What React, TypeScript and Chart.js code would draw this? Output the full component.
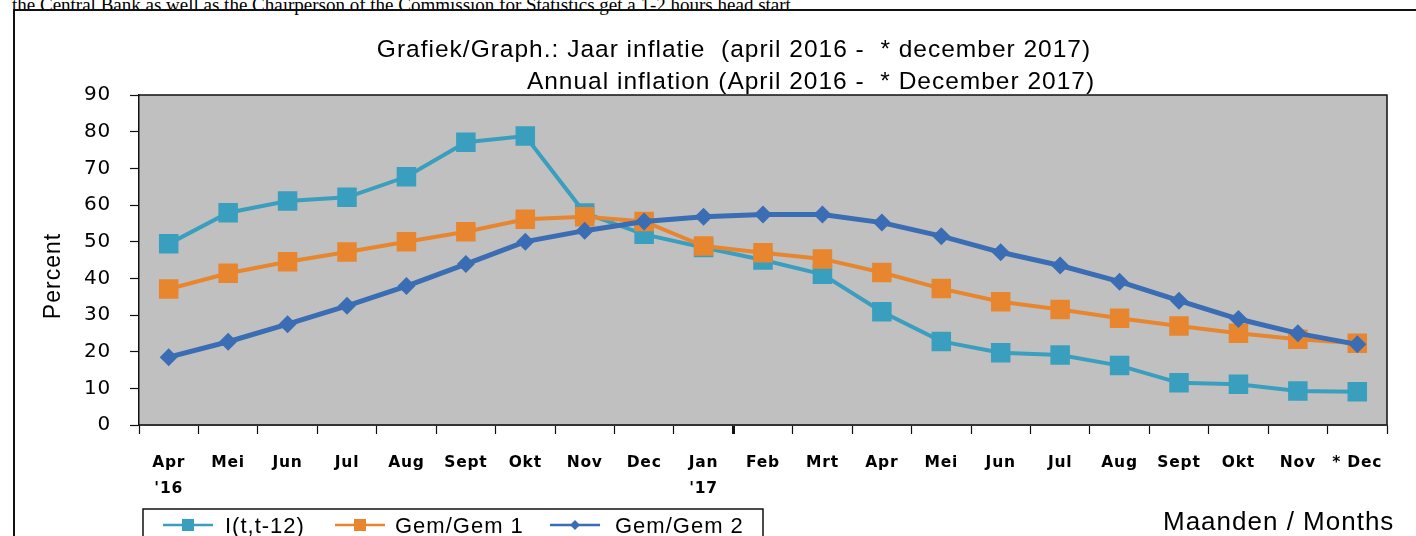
import React, { useEffect, useRef } from 'react';
import { Chart, registerables } from 'chart.js';

Chart.register(...registerables);

// ---- data ----
const categories: (string | string[])[] = [
  ['Apr', "'16"], 'Mei', 'Jun', 'Jul', 'Aug', 'Sept', 'Okt', 'Nov', 'Dec',
  ['Jan', "'17"], 'Feb', 'Mrt', 'Apr', 'Mei', 'Jun', 'Jul', 'Aug', 'Sept', 'Okt', 'Nov', '* Dec',
];
const seriesNames = ['I(t,t-12)', 'Gem/Gem 1', 'Gem/Gem 2'];
const inflationYoY = [49.4, 57.9, 61.1, 62.1, 67.7, 77.1, 78.8, 57.8, 52.0, 48.4, 45.0, 41.1, 30.9, 22.8, 19.7, 19.1, 16.2, 11.5, 11.1, 9.3, 9.1];
const gemGem1 = [37.1, 41.4, 44.5, 47.2, 50.0, 52.7, 56.1, 56.8, 55.5, 48.8, 47.0, 45.3, 41.6, 37.2, 33.6, 31.5, 29.1, 27.0, 25.0, 23.4, 22.3];
const gemGem2 = [18.5, 22.7, 27.5, 32.5, 37.9, 43.9, 50.0, 53.0, 55.5, 56.8, 57.4, 57.4, 55.2, 51.5, 47.1, 43.5, 39.1, 33.9, 28.9, 25.0, 22.0];
const yMin = 0;
const yMax = 90;
const yStep = 10;
const titleLines = [
  'Grafiek/Graph.: Jaar inflatie  (april 2016 -  * december 2017)',
  'Annual inflation (April 2016 -  * December 2017)',
];
const yTitle = 'Percent';
const xTitle = 'Maanden / Months';
const headerText = 'the Central Bank as well as the Chairperson of the Commission for Statistics get a 1-2 hours head start';

const TEAL = '#3a9fbe';
const ORANGE = '#e8862f';
const BLUE = '#3a6db3';

const decorPlugin = {
  id: 'decor',
  beforeDraw(chart: any) {
    const { ctx, chartArea: a } = chart;
    (ctx as any).letterSpacing = '0.8px';
    ctx.save();
    ctx.fillStyle = '#c0c0c0';
    ctx.fillRect(a.left, a.top, a.right - a.left, a.bottom - a.top);
    ctx.strokeStyle = '#111';
    ctx.lineWidth = 1.5;
    ctx.beginPath();
    ctx.moveTo(a.left, a.top);
    ctx.lineTo(a.right, a.top);
    ctx.lineTo(a.right, a.bottom);
    ctx.stroke();
    ctx.restore();
  },
  afterDraw(chart: any) {
    const { ctx } = chart;
    ctx.save();
    ctx.fillStyle = '#000';
    (ctx as any).letterSpacing = '1px';
    ctx.font = '24.5px "Liberation Sans", Arial, sans-serif';
    ctx.textBaseline = 'alphabetic';
    ctx.textAlign = 'center';
    ctx.fillText(titleLines[0], 734, 57);
    ctx.fillText(titleLines[1], 811, 89);

    // y title
    (ctx as any).letterSpacing = '1px';
    ctx.font = '23px "Liberation Sans", Arial, sans-serif';
    ctx.save();
    ctx.translate(60, 276);
    ctx.rotate(-Math.PI / 2);
    ctx.textAlign = 'center';
    ctx.fillText(yTitle, 0, 0);
    ctx.restore();

    // x title
    ctx.font = '26px "Liberation Sans", Arial, sans-serif';
    ctx.textAlign = 'left';
    ctx.fillText(xTitle, 1163, 530);

    // legend box
    ctx.strokeStyle = '#111';
    ctx.lineWidth = 1.5;
    ctx.strokeRect(143, 509, 620, 40);
    const items = [
      { lineX: 163, textX: 225 },
      { lineX: 335, textX: 395 },
      { lineX: 550, textX: 615 },
    ];
    const ly = 525;
    chart.data.datasets.forEach((ds: any, i: number) => {
      const it = items[i];
      ctx.strokeStyle = ds.borderColor;
      ctx.lineWidth = 2.5;
      ctx.beginPath();
      ctx.moveTo(it.lineX, ly);
      ctx.lineTo(it.lineX + 50, ly);
      ctx.stroke();
      const cx = it.lineX + 25;
      ctx.fillStyle = ds.borderColor;
      if (ds.pointStyle === 'rectRot') {
        ctx.beginPath();
        ctx.moveTo(cx, ly - 5);
        ctx.lineTo(cx + 5, ly);
        ctx.lineTo(cx, ly + 5);
        ctx.lineTo(cx - 5, ly);
        ctx.closePath();
        ctx.fill();
      } else {
        ctx.fillRect(cx - 6, ly - 6, 12, 12);
      }
      ctx.fillStyle = '#000';
      ctx.font = '22px "Liberation Sans", Arial, sans-serif';
      ctx.textAlign = 'left';
      ctx.fillText(ds.label, it.textX, 533);
    });
    ctx.restore();
  },
};

export default function App() {
  const canvasRef = useRef<HTMLCanvasElement | null>(null);

  useEffect(() => {
    if (!canvasRef.current) return;
    const chart = new Chart(canvasRef.current, {
      type: 'line',
      data: {
        labels: categories,
        datasets: [
          {
            label: seriesNames[0],
            data: inflationYoY,
            borderColor: TEAL,
            backgroundColor: TEAL,
            borderWidth: 4,
            pointStyle: 'rect',
            pointRadius: 13.8,
            pointBorderWidth: 0,
            pointBackgroundColor: TEAL,
            tension: 0,
            order: 3,
          },
          {
            label: seriesNames[1],
            data: gemGem1,
            borderColor: ORANGE,
            backgroundColor: ORANGE,
            borderWidth: 4,
            pointStyle: 'rect',
            pointRadius: 13.8,
            pointBorderWidth: 0,
            pointBackgroundColor: ORANGE,
            tension: 0,
            order: 2,
          },
          {
            label: seriesNames[2],
            data: gemGem2,
            borderColor: BLUE,
            backgroundColor: BLUE,
            borderWidth: 5,
            pointStyle: 'rectRot',
            pointRadius: 9,
            pointBorderWidth: 0,
            pointBackgroundColor: BLUE,
            tension: 0,
            order: 1,
          },
        ],
      },
      options: {
        responsive: false,
        animation: false,
        devicePixelRatio: 1,
        layout: { padding: { left: 0, top: 95, right: 29, bottom: 0 } },
        plugins: {
          legend: { display: false },
          title: { display: false },
          tooltip: { enabled: false },
        },
        scales: {
          x: {
            type: 'category',
            offset: true,
            grid: {
              offset: true,
              drawOnChartArea: false,
              drawTicks: true,
              tickLength: 9,
              tickColor: '#111',
              color: '#111',
              tickWidth: (c: any) => (c.index === 10 ? 3 : 1.2),
            },
            border: { display: true, color: '#333', width: 2 },
            ticks: {
              autoSkip: false,
              maxRotation: 0,
              minRotation: 0,
              padding: 16,
              color: '#000',
              font: { family: '"DejaVu Sans", Verdana, sans-serif', size: 15.5, weight: 'bold', lineHeight: 1.68 },
            },
            afterFit: (s: any) => { s.height = 111; },
          },
          y: {
            min: yMin,
            max: yMax,
            grid: {
              drawOnChartArea: false,
              drawTicks: true,
              tickLength: 9,
              tickColor: '#111',
              color: '#111',
              tickWidth: 1.2,
            },
            border: { display: true, color: '#111', width: 1.5 },
            ticks: {
              stepSize: yStep,
              padding: 19,
              color: '#000',
              font: { family: '"DejaVu Sans", Verdana, sans-serif', size: 20 },
            },
            afterFit: (s: any) => { s.width = 139; },
          },
        },
      },
      plugins: [decorPlugin],
    } as any);
    return () => chart.destroy();
  }, []);

  return (
    <div style={{ position: 'fixed', left: 0, top: 0, width: 1416, height: 536, overflow: 'hidden', background: '#fff' }}>
      <div
        style={{
          position: 'absolute', left: 12, top: -6, whiteSpace: 'nowrap',
          fontFamily: '"Liberation Serif", "Times New Roman", serif', fontSize: 19, color: '#000', lineHeight: 'normal',
        }}
      >
        {headerText}
      </div>
      <canvas ref={canvasRef} width={1416} height={536} style={{ position: 'absolute', left: 0, top: 0, display: 'block' }} />
      <div
        style={{
          position: 'absolute', left: 13, top: 9, width: 1440, height: 560,
          border: '2px solid #111', boxSizing: 'border-box', pointerEvents: 'none',
        }}
      />
    </div>
  );
}
